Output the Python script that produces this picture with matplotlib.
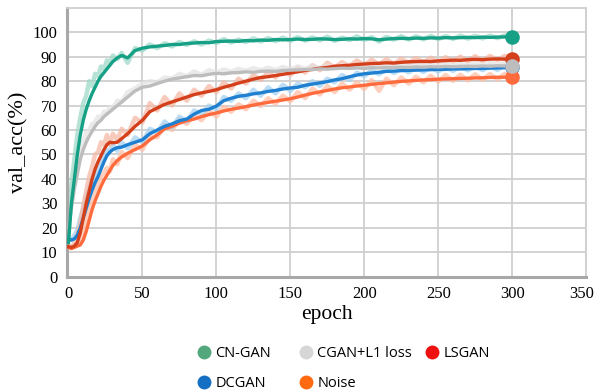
import numpy as np
import matplotlib
matplotlib.use("Agg")
import matplotlib.pyplot as plt
import matplotlib.transforms as mtransforms
from matplotlib.lines import Line2D

plt.rcParams['font.family'] = ['Liberation Serif', 'DejaVu Serif']

# ------------------------------------------------------------
# values
# ------------------------------------------------------------
epochs = [0, 2, 4, 6, 8, 10, 12, 14, 16, 18, 20, 22, 24, 26, 28, 30, 33, 36, 40,
          45, 50, 55, 60, 65, 70, 75, 80, 85, 90, 95, 100, 105, 110, 115, 120, 125,
          130, 135, 140, 145, 150, 155, 160, 165, 170, 175, 180, 185, 190, 195, 200,
          205, 210, 215, 220, 225, 230, 235, 240, 245, 250, 255, 260, 265, 270, 275,
          280, 285, 290, 295, 300]

cngan = [14, 30, 40, 50, 58, 64, 68.5, 72, 75, 77.5, 80, 82, 83.5, 85, 86.5, 88,
         89.5, 90.5, 89.5, 92.5, 93.5, 94, 94.3, 94.6, 95, 95, 95.4, 95.6, 95.8, 95.7,
         96.2, 96.3, 96.4, 96.3, 96.6, 96.5, 96.8, 96.7, 97, 96.9, 97, 97.2, 97, 97.1,
         97.3, 97.2, 97, 97.1, 97.3, 97.2, 97.4, 97.3, 96.9, 97.2, 97.4, 97.5, 97.4,
         97.6, 97.5, 97.7, 97.6, 97.8, 97.7, 97.8, 97.9, 97.8, 98, 97.9, 98, 98.1, 98.2]
cngan_raw = [15, 38, 48, 58, 65, 71, 74, 80, 78, 83, 82, 86, 85, 88.5, 87.5, 90.5, 89,
             91.5, 87.5, 93.5, 92.5, 95, 93.5, 95.5, 94.2, 96, 94.8, 96.3, 95, 96.6,
             95.6, 97.2, 95.8, 97, 96, 97.5, 96.2, 97.6, 96.4, 97.8, 96.5, 98, 96.6,
             97.9, 96.7, 98.2, 96.5, 97.8, 96.8, 98.3, 96.9, 98, 96.2, 98.1, 97, 98.4,
             97, 98.3, 97.1, 98.5, 97.2, 98.4, 97.3, 98.6, 97.4, 98.5, 97.5, 98.6, 97.6,
             98.7, 98.2]

cgan = [20, 28, 36, 42, 48, 52, 55, 57.5, 59.5, 61.5, 63, 64, 65.5, 66.5, 67.5, 68.5,
        70, 71.5, 73.5, 76, 77.5, 78, 79, 80, 80.8, 81.3, 81.8, 82.3, 82.2, 82.8,
        83.2, 83, 83.4, 83.5, 83.8, 83.6, 84, 84.1, 84, 84.3, 84.5, 84.6, 84.8, 84.7,
        85, 84.9, 85.1, 85.3, 85.2, 85.4, 85.2, 85.5, 85.4, 85.6, 85.5, 85.7, 85.6,
        85.8, 85.7, 85.9, 85.8, 86, 85.9, 86, 86.1, 86, 86.2, 86.1, 86.3, 86.2, 86.3]
cgan_raw = [24, 34, 42, 47, 53, 55, 59, 60, 62.5, 63, 65.5, 65, 67.5, 67, 69.5, 69,
            72, 71.5, 75.5, 77, 79, 80, 79.5, 81.5, 81, 83, 82, 84, 82.5, 84.5, 83.5,
            84.8, 83.8, 85, 84.2, 85.3, 84.4, 85.5, 84.5, 85.8, 84.8, 86, 85, 86.2,
            85.3, 86.4, 85.4, 86.6, 85.5, 86.7, 85.6, 86.8, 85.8, 86.9, 85.9, 87, 86,
            87.1, 86.1, 87.2, 86.2, 87.3, 86.3, 87.3, 86.4, 87.4, 86.5, 87.5, 86.6,
            87.5, 86.3]

lsgan = [12.3, 12, 12.5, 14, 18, 24, 30, 35, 40, 44, 47, 49.5, 52, 54, 55, 54.8, 55,
         56.5, 58.5, 61.5, 64, 67.5, 69, 70.5, 71.5, 72.5, 73.5, 74.5, 75.2, 75.8,
         76.5, 77.5, 78.3, 79.2, 80, 80.8, 81.5, 81.8, 82.3, 82.8, 83.3, 83.8, 84.4,
         84.8, 85.3, 85.6, 86.1, 86.3, 86.5, 86.8, 87, 87.2, 87.3, 87.5, 87.4, 87.7,
         87.9, 88, 88.1, 88, 88.3, 88.4, 88.6, 88.5, 88.8, 88.9, 88.8, 89, 89.1, 89, 89.2]
lsgan_raw = [13, 12, 13.5, 17, 22, 29, 35, 41, 45, 50, 51, 55, 54, 58, 54, 58.5, 56,
             60.5, 58, 65, 63, 71, 68, 73.5, 70, 75, 72, 76.5, 74, 78, 75.5, 79.5, 77,
             81, 79, 82.5, 80.5, 83.5, 81.5, 84.5, 82.5, 85.5, 83.5, 86.5, 84.5, 87.5,
             85.5, 87.8, 86, 88.5, 86.5, 88.8, 86.8, 89, 87, 89.2, 87.4, 89.5, 87.6,
             89.6, 87.8, 89.8, 88, 90, 88.2, 90.2, 88.3, 90.3, 88.6, 90.3, 89.2]

dcgan = [15.5, 15, 15.5, 17, 20, 24, 28, 32, 35.5, 38.5, 41, 44, 47, 49.5, 51, 52,
         52.8, 53, 54, 55, 56, 58.5, 60, 61.5, 62.5, 63.8, 64.5, 66.5, 68, 68.5,
         69.8, 72, 73, 73.8, 74.2, 74.8, 75.2, 75.8, 76.2, 76.8, 77.2, 77.5, 78.3, 78.8,
         79.3, 79.8, 80.5, 81, 81.8, 82.5, 83, 83.3, 83.6, 84, 84.1, 84.3, 84.4, 84.5,
         84.6, 84.7, 84.8, 84.8, 85, 85, 85.1, 85.2, 85.2, 85.3, 85.4, 85.5, 85.6]
dcgan_raw = [16, 15, 17, 19, 24, 28, 33, 36, 40, 42, 45, 47, 50, 51.5, 52, 54, 51.5,
             55, 52.5, 57, 55, 60.5, 59, 63.5, 61, 65.5, 63.5, 68, 66.5, 70, 68.5, 73.5,
             72, 75, 73, 76.5, 74, 77.5, 75, 78.5, 76, 79, 77.5, 80, 78, 81, 79.5, 82.5,
             80.5, 83.5, 82, 84.5, 82.8, 85, 83.3, 85.2, 83.6, 85.5, 83.8, 85.6, 84,
             85.8, 84.2, 86, 84.4, 86.1, 84.5, 86.2, 84.6, 86.3, 85.6]

noise = [12, 11.5, 12, 12.5, 13, 15, 18.5, 23, 27.5, 31, 34, 37, 39.5, 41.5, 43.5,
         45.5, 47.5, 49, 50.5, 52, 53.5, 56, 58, 60.5, 61.5, 62.8, 63.8, 64.5, 65.5,
         66.3, 67, 67.8, 68.5, 69, 69.6, 70.2, 70.8, 71.3, 71.8, 72.3, 72.8, 73.5, 74.3,
         75, 75.6, 76.2, 76.8, 77.3, 77.6, 78, 78.3, 78.7, 79, 79.3, 79.6, 79.9, 80.1,
         80.3, 80.5, 80.6, 80.8, 80.9, 81, 81.1, 81.2, 81.3, 81.4, 81.5, 81.6, 81.6, 81.7]
noise_raw = [12.5, 12, 13, 13.5, 15, 18, 22, 27, 31, 35, 38, 41, 42.5, 44.5, 43, 48,
             46, 51, 48.5, 54, 52, 57.5, 57, 62, 60, 64.5, 62.5, 66, 64, 68, 65.5, 69.5,
             67.5, 70.5, 68.5, 72, 69.8, 73, 70.8, 74, 71.8, 75.5, 73, 77, 74.5, 78,
             75.5, 79, 76.5, 79.5, 76.8, 80.5, 76, 81, 78.3, 81.5, 79, 81.8, 79.5, 82.2,
             79.8, 82.5, 80.1, 82.6, 80.3, 82.8, 80.5, 82.9, 80.7, 83, 81.7]

x_ticks = [0, 50, 100, 150, 200, 250, 300, 350]
y_ticks = [0, 10, 20, 30, 40, 50, 60, 70, 80, 90, 100]

# line colour, faint colour, legend colour
styles = {
    "CN-GAN":       ("#16a085", "#9fd9c9", "#52a77c"),
    "CGAN+L1 loss": ("#bdbdbd", "#e3e3e3", "#d6d6d6"),
    "LSGAN":        ("#d4401c", "#f5b9a6", "#ee1010"),
    "DCGAN":        ("#1f7fd0", "#a6d2ef", "#1570c4"),
    "Noise":        ("#ff6b3d", "#ffc0a8", "#ff6a10"),
}
series = {"CN-GAN": (cngan, cngan_raw), "CGAN+L1 loss": (cgan, cgan_raw),
          "LSGAN": (lsgan, lsgan_raw), "DCGAN": (dcgan, dcgan_raw),
          "Noise": (noise, noise_raw)}
for k, (a, b) in series.items():
    assert len(a) == len(epochs) and len(b) == len(epochs), k

# ------------------------------------------------------------
# figure
# ------------------------------------------------------------
fig = plt.figure(figsize=(5.96, 3.90), dpi=100)
ax = fig.add_axes([0.1124, 0.2905, 0.8710, 0.6895])

draw_order = ["Noise", "DCGAN", "LSGAN", "CGAN+L1 loss", "CN-GAN"]
for name in draw_order:
    ax.plot(epochs, series[name][1], color=styles[name][1], lw=3.2, alpha=0.75,
            solid_joinstyle="round", zorder=2)
for name in draw_order:
    ax.plot(epochs, series[name][0], color=styles[name][0], lw=2.4,
            solid_joinstyle="round", zorder=3)

# end markers (gray on top, like the reference)
for name in ["CN-GAN", "LSGAN", "DCGAN", "Noise", "CGAN+L1 loss"]:
    ax.plot(epochs[-1], series[name][0][-1], "o", color=styles[name][0], ms=10.5,
            mec="none", zorder=4)

ax.set_xlim(-1, 350)
ax.set_ylim(0, 110)
ax.set_xticks(x_ticks)
ax.set_yticks(y_ticks)
ax.grid(True, color="#cfcfcf", lw=1.3)
ax.set_axisbelow(True)
ax.tick_params(length=0, labelsize=12, pad=7)
for side in ["left", "bottom"]:
    ax.spines[side].set_color("#a8a8a8")
    ax.spines[side].set_linewidth(2.2)
for side in ["top", "right"]:
    ax.spines[side].set_color("#cfcfcf")
    ax.spines[side].set_linewidth(1.3)

# last x label sits a little left in the reference, inside the canvas
last = ax.get_xticklabels()[-1]
last.set_transform(last.get_transform() +
                   mtransforms.ScaledTranslation(-4 / 100, 0, fig.dpi_scale_trans))

ax.set_xlabel("epoch", fontsize=15.5, labelpad=2)
ax.set_ylabel("val_acc(%)", fontsize=16, labelpad=3)

# legend, one column at a time so the gaps match the reference
leg_cols = [(["CN-GAN", "DCGAN"], 204), (["CGAN+L1 loss", "Noise"], 306),
            (["LSGAN"], 432)]
for names, cx in leg_cols:
    handles = [Line2D([], [], ls="none", marker="o", ms=10, mec="none",
                      color=styles[n][2], label=n) for n in names]
    fig.legend(handles=handles, loc="upper left",
               bbox_to_anchor=((cx - 7) / 596, (390 - 346) / 390),
               frameon=False, prop={"family": "Open Sans", "size": 10.5},
               handlelength=0.9, handletextpad=0.35, labelspacing=1.05,
               borderpad=0, borderaxespad=0)

fig.savefig("out.png", dpi=100)
